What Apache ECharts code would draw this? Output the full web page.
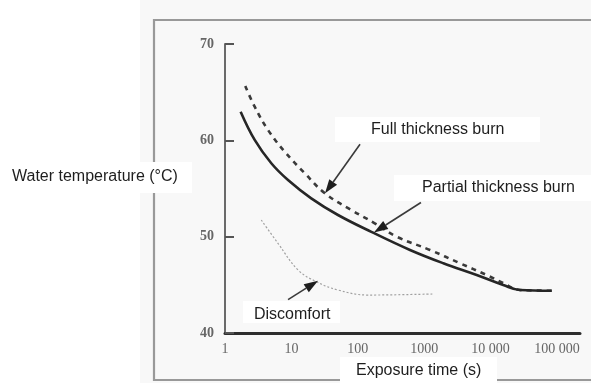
<!DOCTYPE html>
<html><head><meta charset="utf-8">
<script src="https://cdn.jsdelivr.net/npm/echarts@6/dist/echarts.min.js"></script>
<style>html,body{margin:0;padding:0;background:#fff}#c{width:591px;height:383px}</style>
</head><body><div id="c"></div>
<script>
// ---- data ----
const partialX = [1.72, 2.8, 4.98, 8.89, 19.9, 50.3, 160, 611, 1940, 6170, 15500, 27700, 83200];
const partialY = [62.97, 60.04, 57.62, 55.88, 53.98, 52.25, 50.5, 48.62, 47.24, 46.02, 44.98, 44.46, 44.39];
const fullX = [2.02, 2.8, 4.44, 7.93, 15.9, 31.9, 79.8, 180, 385, 1222, 3460, 8720, 15400, 27700, 83200];
const fullY = [65.64, 63.49, 61.08, 58.82, 56.58, 54.5, 52.77, 51.39, 50.0, 48.62, 47.24, 46.02, 45.19, 44.46, 44.39];
const discX = [3.52, 6.28, 12.6, 23.7, 50.3, 142.5, 1371];
const discY = [51.73, 49.31, 46.54, 45.33, 44.46, 43.94, 44.05];
const xTickLabels = ['1', '10', '100', '1000', '10 000', '100 000'];
const seriesNames = ['Partial thickness burn', 'Full thickness burn', 'Discomfort'];
const xAxisTitle = 'Exposure time (s)';
const yAxisTitle = 'Water temperature (°C)';
// arrow tips in data coordinates [time, temperature]
const fullArrowTip = [32.1, 54.5];
const partialArrowTip = [175, 50.43];
const discArrowTip = [25.2, 45.43];

const pairs = (xs, ys) => xs.map((x, i) => [x, ys[i]]);

const chart = echarts.init(document.getElementById('c'), null, {renderer: 'canvas'});
const FONT = '16px "Liberation Sans", Arial, sans-serif';

chart.setOption({
  animation: false,
  backgroundColor: '#f8f8f8',
  grid: {left: 225, right: 11, top: 44, bottom: 50},
  xAxis: {
    type: 'log', logBase: 10, min: 1, max: 222000,
    axisLine: {lineStyle: {color: '#2e2e2e', width: 3}},
    axisTick: {show: false},
    splitLine: {show: false},
    axisLabel: {
      color: '#666', fontFamily: '"Liberation Serif", serif', fontSize: 14, margin: 9,
      showMaxLabel: false,
      formatter: v => {
        const l = Math.log10(v);
        const r = Math.round(l);
        return Math.abs(l - r) < 1e-6 && r >= 0 && r < xTickLabels.length ? xTickLabels[r] : '';
      }
    }
  },
  yAxis: {
    type: 'value', min: 40, max: 70, interval: 10,
    axisLine: {show: true, lineStyle: {color: '#6a6a6a', width: 2}},
    axisTick: {show: true, inside: true, length: 9, lineStyle: {color: '#555', width: 2}},
    splitLine: {show: false},
    axisLabel: {color: '#666', fontFamily: '"Liberation Serif", serif', fontSize: 14, fontWeight: 'bold', margin: 11}
  },
  series: [
    {name: seriesNames[0], type: 'line', data: pairs(partialX, partialY), smooth: 0.4, symbol: 'none',
     lineStyle: {color: '#262626', width: 2.6}, z: 3},
    {name: seriesNames[1], type: 'line', data: pairs(fullX, fullY), smooth: 0.4, symbol: 'none',
     lineStyle: {color: '#3a3a3a', width: 2.6, type: [5, 5]}, z: 2},
    {name: seriesNames[2], type: 'line', data: pairs(discX, discY), smooth: 0.4, symbol: 'none',
     lineStyle: {color: '#a0a0a0', width: 1.2, type: [2, 2]}, z: 2}
  ]
});

function arrow(tipData, dx, dy) {
  const tip = chart.convertToPixel({gridIndex: 0}, tipData);
  const tail = [tip[0] + dx, tip[1] + dy];
  const len = Math.hypot(dx, dy);
  const ux = -dx / len, uy = -dy / len; // direction tail->tip
  const hl = 14, hw = 4.8;
  const bx = tip[0] - ux * hl, by = tip[1] - uy * hl;
  const px = -uy, py = ux;
  return [
    {type: 'line', z: 50, shape: {x1: tail[0], y1: tail[1], x2: bx, y2: by},
     style: {stroke: '#3a3a3a', lineWidth: 1.6}},
    {type: 'polygon', z: 50, shape: {points: [[tip[0], tip[1]], [bx + px * hw, by + py * hw], [bx - px * hw, by - py * hw]]},
     style: {fill: '#1e1e1e'}}
  ];
}

function labelBox(x, y, w, h, text, tx, ty) {
  return [
    {type: 'rect', z: 40, shape: {x: x, y: y, width: w, height: h}, style: {fill: '#ffffff'}},
    {type: 'text', z: 41, style: {text: text, x: tx, y: ty, font: FONT, fill: '#1e1e1e', textVerticalAlign: 'middle', verticalAlign: 'middle'}}
  ];
}

chart.setOption({
  graphic: [
    {type: 'rect', z: -10, silent: true, shape: {x: 0, y: 0, width: 140, height: 383}, style: {fill: '#ffffff'}},
    {type: 'rect', z: -9, silent: true, shape: {x: 154, y: 20, width: 460, height: 360},
     style: {fill: 'none', stroke: '#999999', lineWidth: 2.2}},
    ...arrow(fullArrowTip, 35, -49),
    ...arrow(partialArrowTip, 47, -30),
    ...arrow(discArrowTip, -30, 19),
    ...labelBox(335, 117, 205, 25, seriesNames[1], 371, 130),
    ...labelBox(394, 175, 197, 26, seriesNames[0], 422, 188),
    ...labelBox(243, 301, 97, 22, seriesNames[2], 254, 315),
    ...labelBox(340, 357, 157, 26, xAxisTitle, 356, 371),
    ...labelBox(0, 162, 192, 31, yAxisTitle, 12, 177)
  ]
});
</script></body></html>
